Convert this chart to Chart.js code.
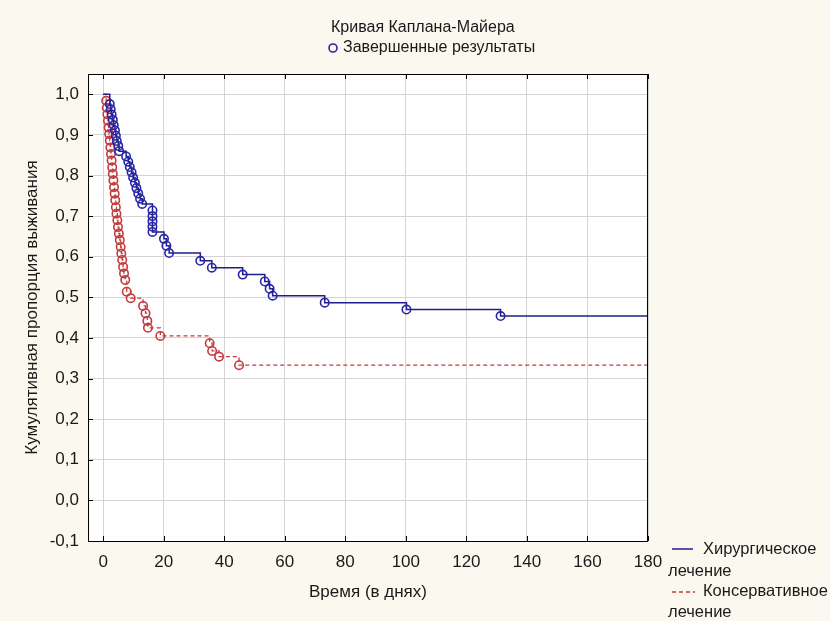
<!DOCTYPE html>
<html><head><meta charset="utf-8">
<script src="https://cdn.jsdelivr.net/npm/chart.js@4.4.0/dist/chart.umd.min.js"></script>
<style>html,body{margin:0;padding:0;background:#fbf8ef;} #wrap{width:830px;height:621px;position:relative}</style>
</head><body><div id="wrap"><canvas id="c" width="830" height="621"></canvas></div>
<script>
const titleText = "Кривая Каплана-Майера";
const markerLegend = "Завершенные результаты";
const xTitle = "Время (в днях)";
const yTitle = "Кумулятивная пропорция выживания";
const seriesNames = [["Хирургическое", "лечение"], ["Консервативное", "лечение"]];
const xTicks = [0, 20, 40, 60, 80, 100, 120, 140, 160, 180];
const yTicks = [-0.1, 0.0, 0.1, 0.2, 0.3, 0.4, 0.5, 0.6, 0.7, 0.8, 0.9, 1.0];
const xMin = -5, xMax = 180, yMin = -0.1, yMax = 1.05;

// Хирургическое лечение: event times (days) and survival after event
const surgDays = [2.2, 2.5, 2.8, 3.2, 3.5, 3.9, 4.2, 4.5, 5.0, 5.3,
  7.6, 8.3, 8.8, 9.4, 9.9, 10.5, 11.0, 11.6, 12.2, 12.9,
  16.3, 16.3, 16.3, 16.3, 16.3, 20.1, 20.9, 21.8,
  32.1, 35.9, 46.1, 53.4, 55.0, 56.0, 73.2, 100.2, 131.3];
const surgSurv = [0.976, 0.963, 0.950, 0.937, 0.924, 0.911, 0.898, 0.885, 0.873, 0.860,
  0.847, 0.834, 0.821, 0.808, 0.795, 0.782, 0.769, 0.756, 0.743, 0.730,
  0.714, 0.700, 0.687, 0.674, 0.661, 0.644, 0.627, 0.609,
  0.590, 0.573, 0.556, 0.539, 0.521, 0.504, 0.487, 0.470, 0.454];

// Консервативное лечение
const consDays = [1.0, 1.2, 1.4, 1.6, 1.8, 2.0, 2.2, 2.4, 2.6, 2.8,
  3.0, 3.2, 3.4, 3.6, 3.8, 4.0, 4.2, 4.4, 4.7, 4.9,
  5.2, 5.5, 5.8, 6.0, 6.3, 6.6, 6.9, 7.3, 7.8, 9.1,
  13.2, 14.0, 14.6, 14.8, 18.9, 35.2, 36.0, 38.3, 44.9];
const consSurv = [0.984, 0.967, 0.951, 0.935, 0.918, 0.902, 0.886, 0.869, 0.853, 0.837,
  0.820, 0.804, 0.788, 0.771, 0.755, 0.739, 0.722, 0.706, 0.690, 0.673,
  0.657, 0.641, 0.624, 0.608, 0.592, 0.575, 0.559, 0.543, 0.514, 0.498,
  0.479, 0.461, 0.442, 0.425, 0.405, 0.387, 0.368, 0.354, 0.333];

const blue = '#1e1e8c', blueMark = '#2626a6';
const red = '#c8383a', redMark = '#c23b3d';
const FAMILY = '"Liberation Sans", Arial, sans-serif';
const FS_AXIS = 17, FS_LEG = 16.5, FS_TOP = 16;

function kmPoints(days, surv) {
  const pts = [{x: 0, y: 1}];
  days.forEach((d, i) => pts.push({x: d, y: surv[i]}));
  pts.push({x: xMax, y: surv[surv.length - 1]});
  return pts;
}
function markRadius(ctx) {
  const n = ctx.dataset.data.length;
  return (ctx.dataIndex === 0 || ctx.dataIndex === n - 1) ? 0 : 4.2;
}

const frame = {
  id: 'frame',
  beforeDraw(chart) {
    const {ctx, chartArea: a} = chart;
    ctx.save();
    ctx.fillStyle = '#fbf8ef';
    ctx.fillRect(0, 0, chart.width, chart.height);
    ctx.fillStyle = '#ffffff';
    ctx.fillRect(a.left, a.top, a.right - a.left, a.bottom - a.top);
    ctx.restore();
  },
  afterDraw(chart) {
    const {ctx, chartArea: a, scales} = chart;
    ctx.save();
    ctx.strokeStyle = '#000';
    ctx.lineWidth = 1;
    ctx.strokeRect(a.left + 0.5, a.top + 0.5, a.right - a.left - 1, a.bottom - a.top);
    ctx.beginPath();
    xTicks.forEach(v => {
      const px = Math.round(scales.x.getPixelForValue(v)) + 0.5;
      ctx.moveTo(px, a.bottom); ctx.lineTo(px, a.bottom - 5);
      ctx.moveTo(px, a.top); ctx.lineTo(px, a.top + 5);
    });
    yTicks.forEach(v => {
      const py = Math.round(scales.y.getPixelForValue(v)) + 0.5;
      ctx.moveTo(a.left, py); ctx.lineTo(a.left + 5, py);
    });
    ctx.stroke();

    ctx.fillStyle = '#1a1a1a';
    ctx.textBaseline = 'middle';
    ctx.textAlign = 'left';
    ctx.font = FS_TOP + 'px ' + FAMILY;
    ctx.fillText(titleText, 331, 28);
    // marker legend
    ctx.beginPath();
    ctx.strokeStyle = blueMark; ctx.lineWidth = 1.6;
    ctx.arc(333, 48, 4, 0, Math.PI * 2);
    ctx.stroke();
    ctx.fillText(markerLegend, 343, 48);

    // series legend
    ctx.font = FS_LEG + 'px ' + FAMILY;
    ctx.strokeStyle = blue; ctx.lineWidth = 1.5;
    ctx.beginPath(); ctx.moveTo(672, 549); ctx.lineTo(693, 549); ctx.stroke();
    ctx.fillText(seriesNames[0][0], 703, 549);
    ctx.fillText(seriesNames[0][1], 668, 571);
    ctx.strokeStyle = red; ctx.lineWidth = 1.3; ctx.setLineDash([4, 3]);
    ctx.beginPath(); ctx.moveTo(672, 592); ctx.lineTo(695, 592); ctx.stroke();
    ctx.setLineDash([]);
    ctx.fillText(seriesNames[1][0], 703, 591);
    ctx.fillText(seriesNames[1][1], 668, 612);
    ctx.restore();
  }
};

new Chart(document.getElementById('c'), {
  type: 'scatter',
  data: {
    datasets: [
      {
        label: seriesNames[0].join(' '),
        data: kmPoints(surgDays, surgSurv),
        showLine: true, stepped: 'before',
        borderColor: blue, borderWidth: 1.5,
        pointRadius: markRadius, pointBorderColor: blueMark, pointBorderWidth: 1.6,
        pointBackgroundColor: 'rgba(0,0,0,0)', pointStyle: 'circle'
      },
      {
        label: seriesNames[1].join(' '),
        data: kmPoints(consDays, consSurv),
        showLine: true, stepped: 'before',
        borderColor: red, borderWidth: 1.3, borderDash: [4, 3],
        pointRadius: markRadius, pointBorderColor: redMark, pointBorderWidth: 1.6,
        pointBackgroundColor: 'rgba(0,0,0,0)', pointStyle: 'circle'
      }
    ]
  },
  options: {
    responsive: false, animation: false, devicePixelRatio: 1,
    layout: {padding: {top: 74, right: 182, left: 0, bottom: 0}},
    plugins: {legend: {display: false}, title: {display: false}, tooltip: {enabled: false}},
    scales: {
      x: {
        type: 'linear', min: xMin, max: xMax,
        afterFit(s) { s.height = 80; },
        afterBuildTicks(s) { s.ticks = xTicks.map(v => ({value: v})); },
        grid: {color: '#d4d4d4', lineWidth: 1, drawTicks: false},
        border: {display: false},
        ticks: {padding: 11, color: '#1a1a1a', font: {family: FAMILY, size: FS_AXIS}, maxRotation: 0},
        title: {display: true, text: xTitle, color: '#1a1a1a', padding: {top: 0, bottom: 18},
          font: {family: FAMILY, size: FS_AXIS}}
      },
      y: {
        type: 'linear', min: yMin, max: yMax,
        afterFit(s) { s.width = 88; },
        afterBuildTicks(s) { s.ticks = yTicks.map(v => ({value: v})); },
        grid: {color: '#d4d4d4', lineWidth: 1, drawTicks: false},
        border: {display: false},
        ticks: {padding: 9, color: '#1a1a1a', font: {family: FAMILY, size: FS_AXIS},
          callback: v => v.toFixed(1).replace('.', ',')},
        title: {display: true, text: yTitle, color: '#1a1a1a', padding: {top: 22, bottom: 0},
          font: {family: FAMILY, size: FS_AXIS}}
      }
    }
  },
  plugins: [frame]
});
</script></body></html>
